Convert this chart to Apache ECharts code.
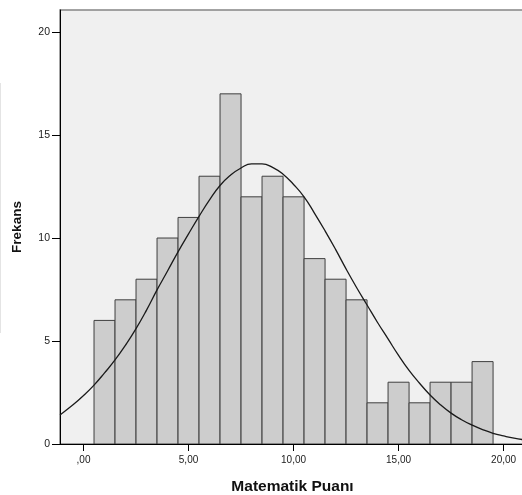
<!DOCTYPE html>
<html>
<head>
<meta charset="utf-8">
<script src="https://cdn.jsdelivr.net/npm/echarts@6/dist/echarts.min.js"></script>
<style>html,body{margin:0;padding:0;background:#fff;}#c{width:522px;height:495px;}</style>
</head>
<body>
<div id="c"></div>
<script>
// Histogram bins (centers) and frequencies
const binCenters = [1,2,3,4,5,6,7,8,9,10,11,12,13,14,15,16,17,18,19];
const frequencies = [6,7,8,10,11,13,17,12,13,12,9,8,7,2,3,2,3,3,4];
const binWidth = 1;
// Normal curve points
const curveX = [-1.12,-0.5,0,0.5,1,1.5,2,2.5,3,3.5,4,4.5,5,5.5,6,6.5,7,7.5,8,8.5,9,9.5,10,10.5,11,11.5,12,12.5,13,13.5,14,14.5,15,15.5,16,16.5,17,17.5,18,18.5,19,19.5,20,20.5,21.02];
const curveY = [1.41,1.9,2.35,2.86,3.45,4.08,4.8,5.6,6.5,7.48,8.4,9.33,10.2,11.05,11.85,12.55,13.05,13.4,13.6,13.6,13.43,13.1,12.6,12.0,11.2,10.35,9.45,8.5,7.6,6.75,5.9,5.1,4.3,3.57,2.95,2.38,1.9,1.5,1.18,0.92,0.7,0.52,0.39,0.28,0.2];
// Axes
const xTickValues = [0,5,10,15,20];
const xTickLabels = [',00','5,00','10,00','15,00','20,00'];
const yTickValues = [0,5,10,15,20];
const xTitle = 'Matematik Puanı';
const yTitle = 'Frekans';

const font = 'Liberation Sans, Arial, sans-serif';
const chart = echarts.init(document.getElementById('c'), null, {renderer:'canvas'});
chart.setOption({
  animation:false,
  backgroundColor:'#ffffff',
  graphic:[{type:'line', shape:{x1:0.5,y1:83,x2:0.5,y2:333}, style:{stroke:'#e4e4e4', lineWidth:1}, silent:true}],
  grid:{left:60, top:10, width:465, height:434, containLabel:false, outerBoundsMode:'none',
    show:true, backgroundColor:'#f0f0f0', borderColor:'#858585', borderWidth:1.5},
  xAxis:{
    type:'value', min:-1.12, max:21.02,
    name:xTitle, nameLocation:'middle', nameGap:35,
    nameTextStyle:{fontFamily:font, fontWeight:'bold', fontSize:15.5, color:'#111'},
    axisLine:{show:true, onZero:false, lineStyle:{color:'#000', width:1}},
    axisTick:{show:true, length:7, customValues:xTickValues, lineStyle:{color:'#000'}},
    axisLabel:{customValues:xTickValues, margin:11, fontFamily:font, fontSize:10, color:'#1a1a1a',
      formatter:function(v){const i=xTickValues.indexOf(v);return i>=0?xTickLabels[i]:'';}},
    splitLine:{show:false}
  },
  yAxis:{
    type:'value', min:0, max:21.07,
    name:yTitle, nameLocation:'middle', nameGap:36, nameRotate:90,
    nameTextStyle:{fontFamily:font, fontWeight:'bold', fontSize:13.5, color:'#111'},
    axisLine:{show:true, onZero:false, lineStyle:{color:'#000', width:1}},
    axisTick:{show:true, length:8, customValues:yTickValues, lineStyle:{color:'#000'}},
    axisLabel:{customValues:yTickValues, margin:10, fontFamily:font, fontSize:10.5, color:'#1a1a1a'},
    splitLine:{show:false}
  },
  series:[
    {
      type:'custom',
      data:binCenters.map((c,i)=>[c, frequencies[i]]),
      clip:true,
      renderItem:function(params, api){
        const c = api.value(0), f = api.value(1);
        const p0 = api.coord([c-binWidth/2, f]);
        const p1 = api.coord([c+binWidth/2, 0]);
        return {type:'rect', shape:{x:p0[0], y:p0[1], width:p1[0]-p0[0], height:p1[1]-p0[1]},
          style:{fill:'#cdcdcd', stroke:'#3f3f3f', lineWidth:1}};
      }
    },
    {
      type:'line',
      data:curveX.map((x,i)=>[x, curveY[i]]),
      smooth:true, showSymbol:false, clip:true,
      lineStyle:{color:'#1a1a1a', width:1.3},
      z:5
    }
  ]
});
</script>
</body>
</html>
